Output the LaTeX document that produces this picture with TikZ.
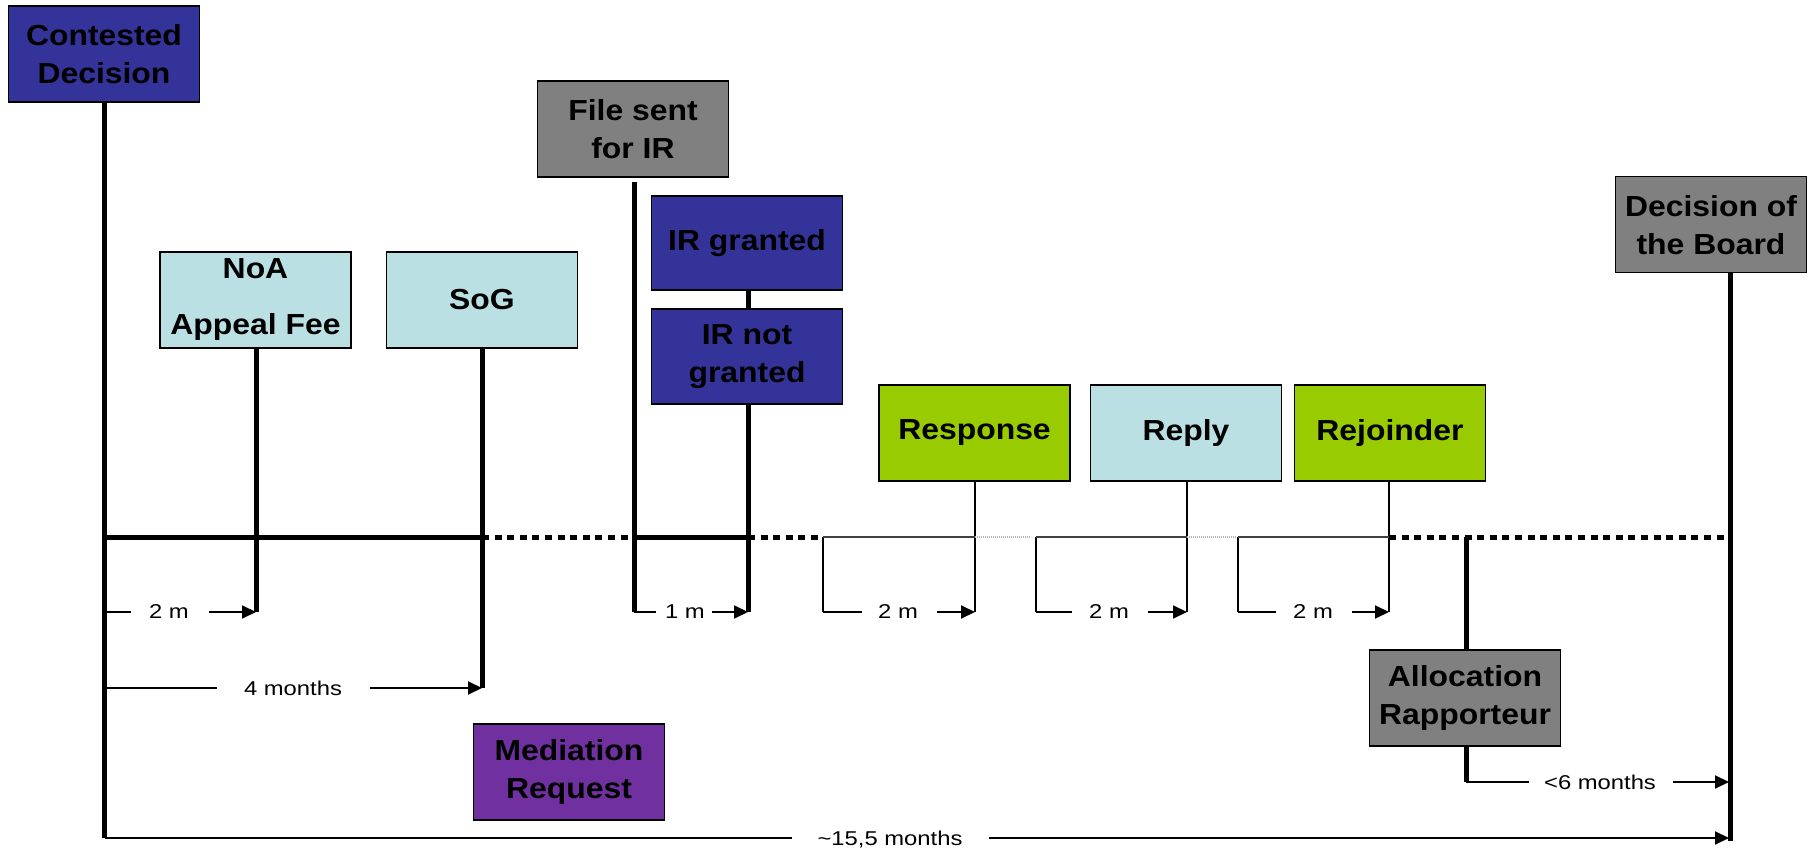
\documentclass[tikz,border=0pt]{standalone}
\usepackage{fontspec}
\setmainfont{Liberation Sans}
\newfontfamily\boxfont{Liberation Sans}[FakeStretch=1.1]
\newfontfamily\labfont{Liberation Sans}[FakeStretch=1.19]
\usetikzlibrary{arrows.meta}
\definecolor{cDark}{HTML}{333399}
\definecolor{cGray}{HTML}{808080}
\definecolor{cCyan}{HTML}{BBE0E3}
\definecolor{cGreen}{HTML}{99CC00}
\definecolor{cPurple}{HTML}{7030A0}
\begin{document}
\begin{tikzpicture}[x=0.5pt,y=-0.5pt,
  evbox/.style={draw=black, line width=0.75pt, inner sep=0pt, minimum width=95.5pt,
    minimum height=48pt, align=center, text=black,
    font=\boxfont\bfseries\fontsize{14.5}{19}\selectfont},
  darkbox/.style={evbox, fill=cDark},
  graybox/.style={evbox, fill=cGray},
  cyanbox/.style={evbox, fill=cCyan},
  greenbox/.style={evbox, fill=cGreen},
  purplebox/.style={evbox, fill=cPurple},
  thickline/.style={line width=2.5pt, black},
  dotline/.style={line width=2.5pt, black, dash pattern=on 3.5pt off 2.8pt},
  hline/.style={line width=0.6pt, black!75},
  faint/.style={line width=0.6pt, black!30, dash pattern=on 0.6pt off 0.4pt},
  thinline/.style={line width=0.6pt, black},
  stub/.style={line width=0.9pt, black},
  dimarrow/.style={line width=1pt, black, -{Triangle[length=7pt,width=6.5pt]}},
  lab/.style={font=\labfont\fontsize{10}{12}\selectfont, inner sep=0pt, text=black}
]
\useasboundingbox (0,0) rectangle (1820,855);

% boxes
\node[darkbox] (cd) at (104,54) {Contested\\Decision};
\node[cyanbox] (noa) at (255.5,300) {NoA\\[9pt]Appeal Fee};
\node[cyanbox] (sog) at (482,300) {SoG};
\node[graybox] (file) at (633,129) {File sent\\for IR};
\node[darkbox, minimum height=47pt] (irg) at (747,243) {IR granted};
\node[darkbox, minimum height=47.5pt] (irn) at (747,356.5) {IR not\\granted};
\node[greenbox] (resp) at (974.5,433) {Response};
\node[cyanbox] (reply) at (1186,433) {Reply};
\node[greenbox] (rej) at (1390,433) {Rejoinder};
\node[graybox] (board) at (1711,224.7) {Decision of\\the Board};
\node[graybox] (alloc) at (1465,698) {Allocation\\Rapporteur};
\node[purplebox] (med) at (569,772) {Mediation\\Request};

% timeline coordinates
\coordinate (t0) at (104,537);
\coordinate (t1) at (482,537);
\coordinate (t2) at (634,537);
\coordinate (t3) at (748,537);
\coordinate (t4) at (818,537);
\coordinate (b1) at (823,537);
\coordinate (r1) at (975,537);
\coordinate (f1) at (1030,537);
\coordinate (b2) at (1036,537);
\coordinate (r2) at (1187,537);
\coordinate (f2) at (1236,537);
\coordinate (b3) at (1238,537);
\coordinate (r3) at (1389,537);
\coordinate (al0) at (1466,537);
\coordinate (tE) at (1730,537);

% vertical end points
\coordinate (cdB) at (104.5,838);
\coordinate (noaE) at (256,612);
\coordinate (sogE) at (482,688);
\coordinate (fileT) at (634,182);
\coordinate (fileE) at (634,612);
\coordinate (irE) at (748,612);
\coordinate (b1E) at (823,612);
\coordinate (r1E) at (975,612);
\coordinate (b2E) at (1036,612);
\coordinate (r2E) at (1187,612);
\coordinate (b3E) at (1238,612);
\coordinate (r3E) at (1389,612);
\coordinate (alC) at (1466,782);
\coordinate (bdE) at (1730,841);

% vertical lines
\draw[thickline] (cd.south -| cdB) -- (cdB);
\draw[thickline] (noa.south -| noaE) -- (noaE);
\draw[thickline] (sog.south -| sogE) -- (sogE);
\draw[thickline] (fileT) -- (fileE);
\draw[thickline] (irg.south -| irE) -- (irn.north -| irE);
\draw[thickline] (irn.south -| irE) -- (irE);
\draw[thinline] (resp.south -| r1E) -- (r1E);
\draw[thinline] (reply.south -| r2E) -- (r2E);
\draw[thinline] (rej.south -| r3E) -- (r3E);
\draw[thinline] (b1) -- (b1E);
\draw[thinline] (b2) -- (b2E);
\draw[thinline] (b3) -- (b3E);
\draw[thickline] (al0) -- (alloc.north -| al0);
\draw[thickline] (alloc.south -| alC) -- (alC);
\draw[thickline] (board.south -| bdE) -- (bdE);

% timeline
\draw[thickline] (t0) -- (t1);
\draw[dotline] (t1) -- (t2);
\draw[thickline] (t2) -- (t3);
\draw[dotline] (t3) -- (t4);
\draw[hline] (b1) -- (r1);
\draw[faint] (r1) -- (f1);
\draw[hline] (b2) -- (r2);
\draw[faint] (r2) -- (f2);
\draw[hline] (b3) -- (r3);
\draw[dotline] (r3) -- (tE);

% dimension: 2 m (NoA)
\coordinate (d1a) at (104,612);
\coordinate (d1b) at (131,612);
\coordinate (d1c) at (209,612);
\node[lab] (l1) at (169,612) {2 m};
\draw[stub] (d1a) -- (d1b);
\draw[dimarrow] (d1c) -- (noaE);

% 4 months
\coordinate (d2a) at (104,688);
\coordinate (d2b) at (217,688);
\coordinate (d2c) at (370,688);
\node[lab] (l2) at (293,688) {4 months};
\draw[stub] (d2a) -- (d2b);
\draw[dimarrow] (d2c) -- (sogE);

% 1 m
\coordinate (d3b) at (656,612);
\coordinate (d3c) at (712,612);
\node[lab] (l3) at (685,612) {1 m};
\draw[stub] (fileE) -- (d3b);
\draw[dimarrow] (d3c) -- (irE);

% 2 m brackets
\coordinate (d4b) at (862,612);
\coordinate (d4c) at (937,612);
\node[lab] (l4) at (898,612) {2 m};
\draw[stub] (b1E) -- (d4b);
\draw[dimarrow] (d4c) -- (r1E);

\coordinate (d5b) at (1072,612);
\coordinate (d5c) at (1148,612);
\node[lab] (l5) at (1109,612) {2 m};
\draw[stub] (b2E) -- (d5b);
\draw[dimarrow] (d5c) -- (r2E);

\coordinate (d6b) at (1276,612);
\coordinate (d6c) at (1352,612);
\node[lab] (l6) at (1313,612) {2 m};
\draw[stub] (b3E) -- (d6b);
\draw[dimarrow] (d6c) -- (r3E);

% <6 months
\coordinate (d7b) at (1529,782);
\coordinate (d7c) at (1673,782);
\coordinate (d7e) at (1729,782);
\node[lab] (l7) at (1600,782) {<6 months};
\draw[stub] (alC) -- (d7b);
\draw[dimarrow] (d7c) -- (d7e);

% ~15,5 months
\coordinate (d8b) at (792,838);
\coordinate (d8c) at (989,838);
\coordinate (d8e) at (1729,838);
\node[lab] (l8) at (890,840) {\textasciitilde 15,5 months};
\draw[stub] (cdB) -- (d8b);
\draw[dimarrow] (d8c) -- (d8e);
\end{tikzpicture}
\end{document}
